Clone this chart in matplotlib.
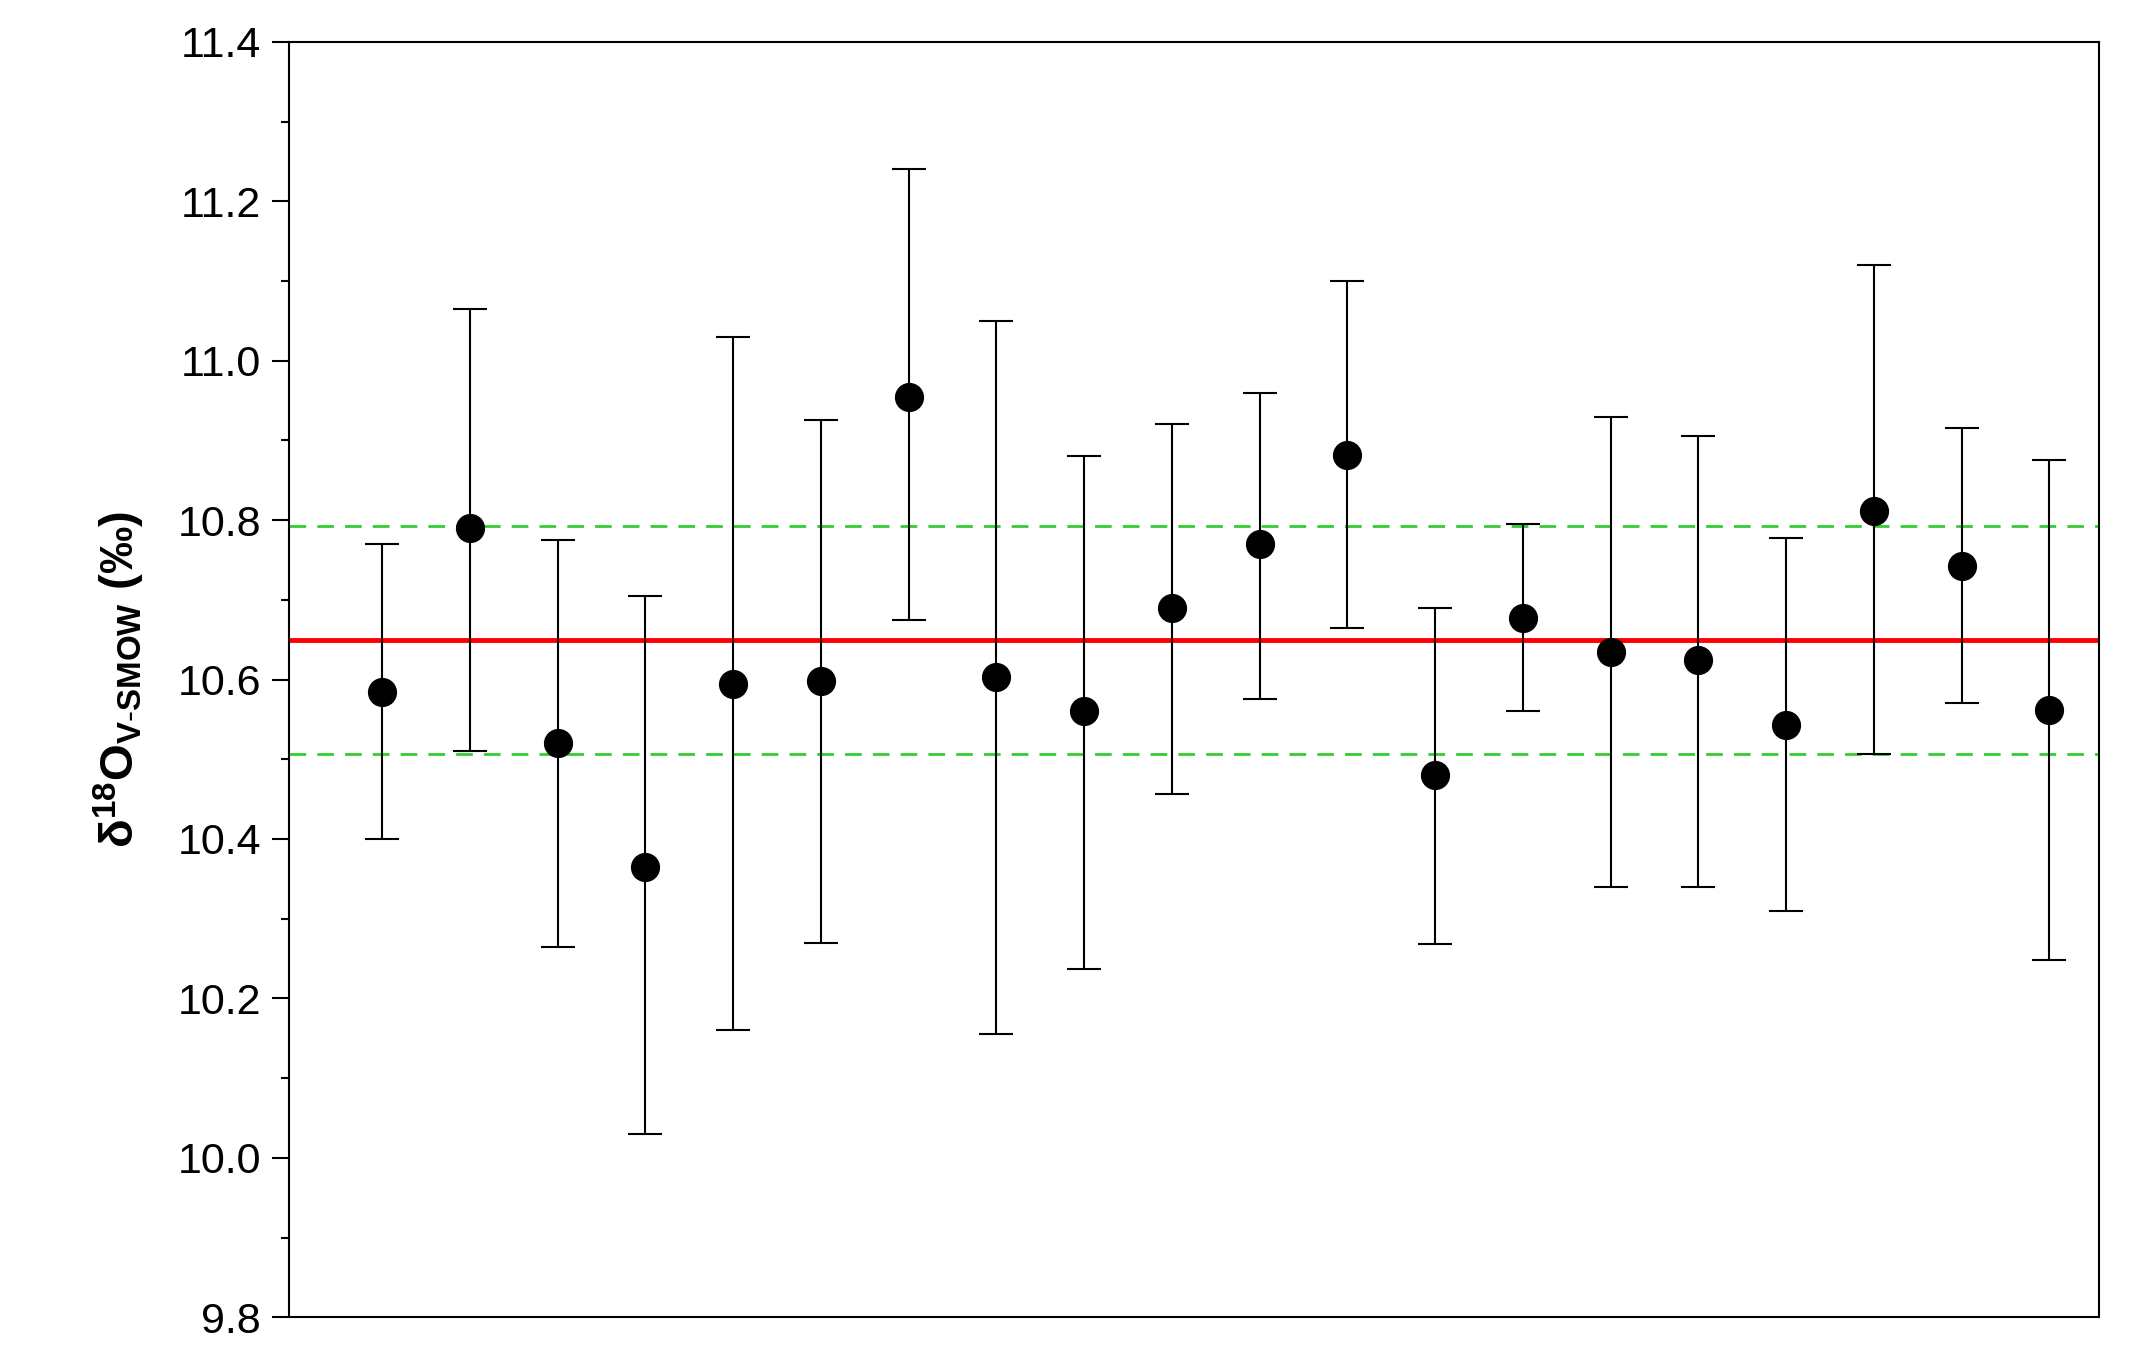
import matplotlib
matplotlib.use("Agg")
import matplotlib.pyplot as plt
import numpy as np

plt.rcParams['font.family'] = ['Liberation Sans', 'DejaVu Sans']
plt.rcParams['mathtext.fontset'] = 'custom'
plt.rcParams['mathtext.rm'] = 'Liberation Sans'
plt.rcParams['mathtext.bf'] = 'Liberation Sans:bold'

means = [10.585, 10.79, 10.52, 10.365, 10.595, 10.598, 10.955, 10.603, 10.56, 10.69,
         10.77, 10.882, 10.48, 10.677, 10.635, 10.625, 10.543, 10.812, 10.743, 10.562]
upper = [10.77, 11.065, 10.775, 10.705, 11.03, 10.925, 11.24, 11.05, 10.88, 10.92,
         10.96, 11.10, 10.69, 10.795, 10.93, 10.905, 10.777, 11.12, 10.915, 10.875]
lower = [10.40, 10.51, 10.265, 10.03, 10.16, 10.27, 10.675, 10.155, 10.237, 10.457,
         10.575, 10.665, 10.268, 10.56, 10.34, 10.34, 10.31, 10.507, 10.57, 10.248]
mean_all = 10.65
band = [10.507, 10.793]

x = np.arange(1, len(means) + 1)
m = np.array(means)
yerr = [m - np.array(lower), np.array(upper) - m]

fig = plt.figure(figsize=(21.55, 13.51), dpi=100)
ax = fig.add_axes([0.134, 0.025, 0.84, 0.944])

ax.axhline(mean_all, color='#ff0000', lw=3.5, zorder=1)
for b in band:
    ax.axhline(b, color='#33cc33', lw=2, ls=(0, (6, 4)), zorder=1)
ax.errorbar(x, m, yerr=yerr, fmt='o', color='black', ms=20, ecolor='black',
            elinewidth=1.5, capsize=12, capthick=1.5, zorder=3)

ax.set_xlim(-0.065, 20.564)
ax.set_ylim(9.8, 11.4)
ax.set_xticks([])
ax.set_yticks(np.arange(9.8, 11.41, 0.2))
ax.set_yticks(np.arange(9.8, 11.41, 0.1), minor=True)
ax.yaxis.set_major_formatter(matplotlib.ticker.FormatStrFormatter('%.1f'))
ax.tick_params(axis='y', which='major', labelsize=31, length=12, width=1.5, pad=8)
ax.tick_params(axis='y', which='minor', length=6, width=1.5)
for s in ax.spines.values():
    s.set_linewidth(1.5)
ax.set_ylabel(r'$\mathbf{\delta^{18}O_{V\text{-}SMOW}}$ $\mathbf{(‰)}$', fontsize=34,
              fontweight='bold', labelpad=22)

fig.savefig("out.png", dpi=100)
